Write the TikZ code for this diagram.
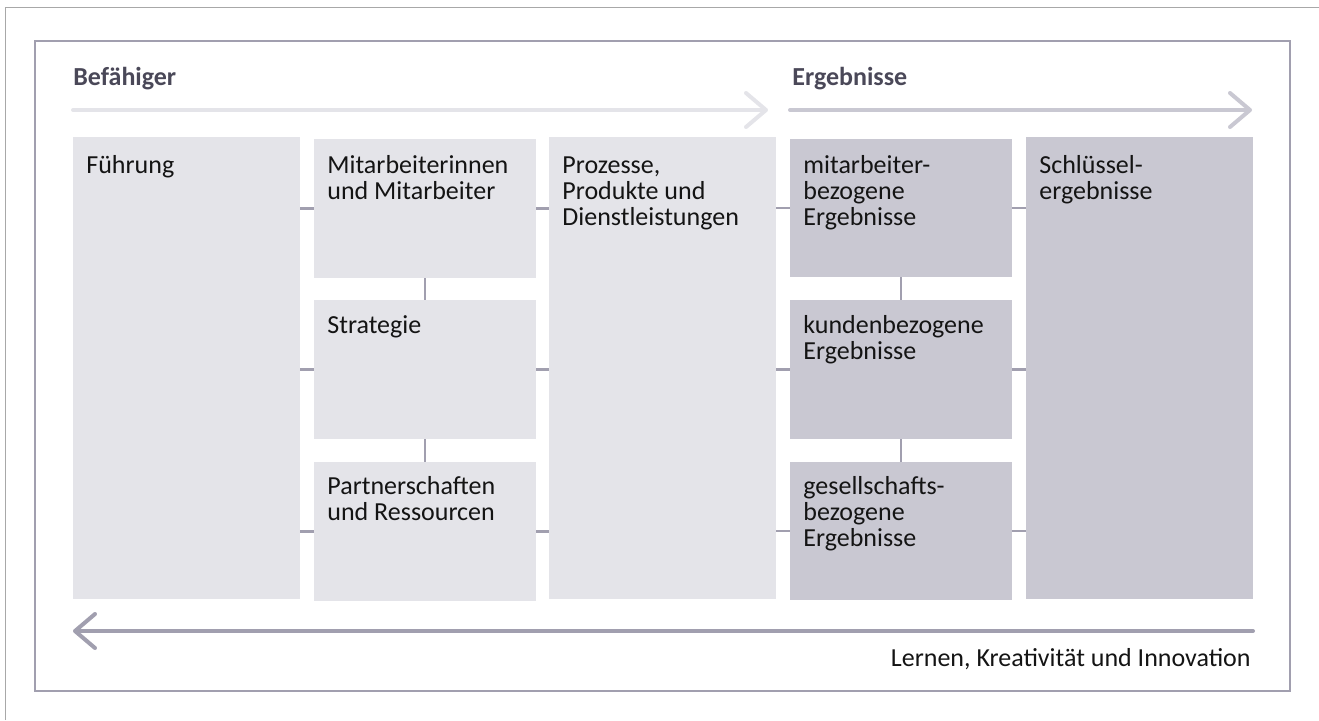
\documentclass[tikz,border=0pt]{standalone}
\usepackage{fontspec}
\setmainfont{Carlito}
\usetikzlibrary{arrows.meta,fit}

\definecolor{boxlight}{HTML}{E4E4E9}
\definecolor{boxdark}{HTML}{C9C8D2}
\definecolor{lineclr}{HTML}{A19FAF}
\definecolor{frameclr}{HTML}{A8A8A8}
\definecolor{headclr}{HTML}{4A4858}
\definecolor{txtclr}{HTML}{141414}

\tikzset{
  x=0.5pt, y=-0.5pt,
  lbox/.style={fill=boxlight, draw=none, inner sep=0pt},
  dbox/.style={fill=boxdark, draw=none, inner sep=0pt},
  boxtext/.style={anchor=base west, inner sep=0pt, text=txtclr,
    font=\fontsize{13}{13}\selectfont},
  headtext/.style={anchor=base west, inner sep=0pt, text=headclr,
    font=\fontsize{13}{13.5}\selectfont\bfseries},
  conn/.style={draw=lineclr, line width=1.2pt},
  flow/.style={line width=2pt, line cap=round, line join=round,
    -{Straight Barb[length=10pt, width=17pt, round]}},
}

\newcommand{\lines}[1]{\parbox[t]{5cm}{\raggedright #1}}

\begin{document}
\begin{tikzpicture}
  \useasboundingbox (0,0) rectangle (1319,720);

  % page frame (only top and left edge fall inside the picture)
  \coordinate (pgA) at (5.5,720);
  \coordinate (pgB) at (5.5,7.5);
  \coordinate (pgC) at (1319,7.5);
  \draw[frameclr, line width=0.75pt] (pgA) -- (pgB) -- (pgC);

  % inner frame
  \draw[lineclr, line width=1pt] (35,41) rectangle (1290,691);

  % headings
  \node[headtext] (befH) at (73,85) {Befähiger};
  \node[headtext] (ergH) at (792,85) {Ergebnisse};

  % direction arrows
  \coordinate (befS) at (73,110);
  \coordinate (befE) at (768,110);
  \coordinate (ergS) at (790,110);
  \coordinate (ergE) at (1252,110);
  \coordinate (lerS) at (1253,631);
  \coordinate (lerE) at (73,631);
  \draw[flow, boxlight] (befS) -- (befE);
  \draw[flow, boxdark] (ergS) -- (ergE);
  \draw[flow, lineclr] (lerS) -- (lerE);

  % enabler boxes
  \node[lbox, fit={(73,137)(300,599)}] (fue) {};
  \node[lbox, fit={(314,139)(536,278)}] (mit) {};
  \node[lbox, fit={(314,300)(536,439)}] (str) {};
  \node[lbox, fit={(314,462)(536,601)}] (par) {};
  \node[lbox, fit={(549,137)(776,599)}] (pro) {};

  % result boxes
  \node[dbox, fit={(790,139)(1012,277)}] (mbe) {};
  \node[dbox, fit={(790,300)(1012,439)}] (kbe) {};
  \node[dbox, fit={(790,462)(1012,600)}] (gbe) {};
  \node[dbox, fit={(1026,137)(1253,599)}] (sch) {};

  % box labels
  \node[boxtext] (fueT) at (86,173) {\lines{Führung}};
  \node[boxtext] (mitT) at (327,173) {\lines{Mitarbeiterinnen\\und Mitarbeiter}};
  \node[boxtext] (strT) at (327,333) {\lines{Strategie}};
  \node[boxtext] (parT) at (327,494) {\lines{Partnerschaften\\und Ressourcen}};
  \node[boxtext] (proT) at (562,173) {\lines{Prozesse,\\Produkte und\\Dienstleistungen}};
  \node[boxtext] (mbeT) at (803,173) {\lines{mitarbeiter-\\bezogene\\Ergebnisse}};
  \node[boxtext] (kbeT) at (803,333) {\lines{kundenbezogene\\Ergebnisse}};
  \node[boxtext] (gbeT) at (803,494) {\lines{gesellschafts-\\bezogene\\Ergebnisse}};
  \node[boxtext] (schT) at (1039,173) {\lines{Schlüssel-\\ergebnisse}};

  % connectors
  \draw[conn] (fue.east |- mit.west) -- (mit.west);
  \draw[conn] (fue.east |- str.west) -- (str.west);
  \draw[conn] (fue.east |- par.west) -- (par.west);
  \draw[conn] (mit.south) -- (str.north);
  \draw[conn] (str.south) -- (par.north);
  \draw[conn] (mit.east) -- (pro.west |- mit.east);
  \draw[conn] (str.east) -- (pro.west |- str.east);
  \draw[conn] (par.east) -- (pro.west |- par.east);
  \draw[conn] (pro.east |- mbe.west) -- (mbe.west);
  \draw[conn] (pro.east |- kbe.west) -- (kbe.west);
  \draw[conn] (pro.east |- gbe.west) -- (gbe.west);
  \draw[conn] (mbe.south) -- (kbe.north);
  \draw[conn] (kbe.south) -- (gbe.north);
  \draw[conn] (mbe.east) -- (sch.west |- mbe.east);
  \draw[conn] (kbe.east) -- (sch.west |- kbe.east);
  \draw[conn] (gbe.east) -- (sch.west |- gbe.east);

  % caption of the return arrow
  \node[anchor=base east, inner sep=0pt, text=txtclr,
    font=\fontsize{13}{13.5}\selectfont] (lerT) at (1251,666)
    {Lernen, Kreativität und Innovation};
\end{tikzpicture}
\end{document}
